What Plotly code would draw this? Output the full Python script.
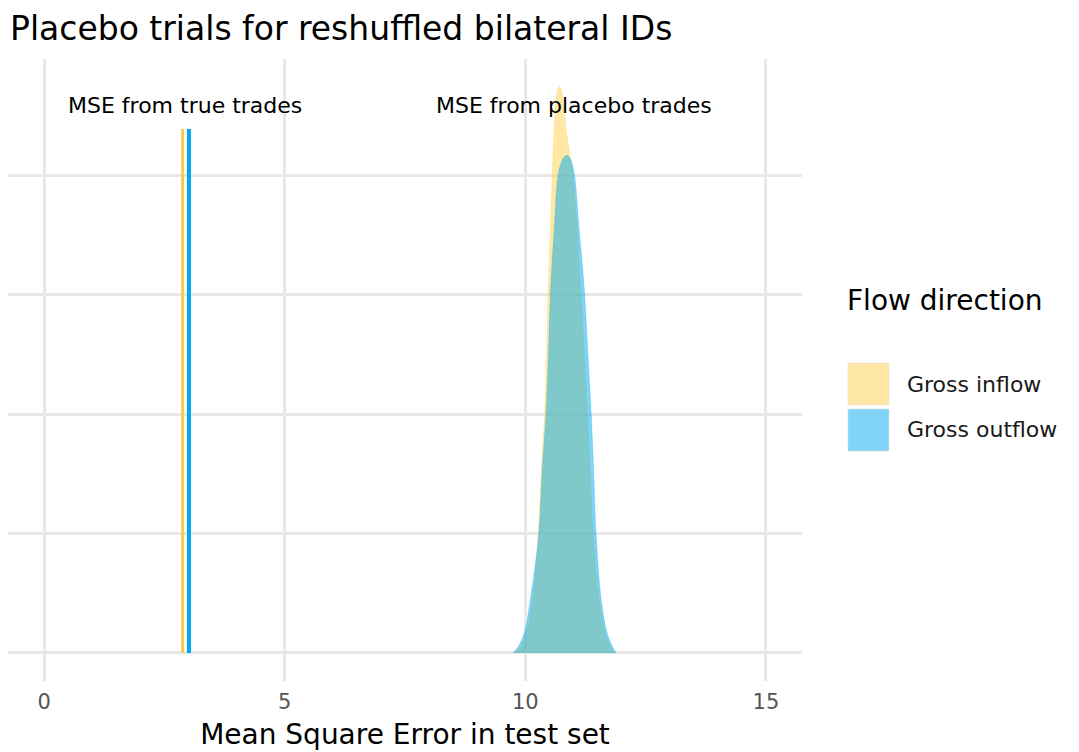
import plotly.graph_objects as go

# ---- data ----
flow_names = ["Gross inflow", "Gross outflow"]
fill_colors = ["rgba(255,209,75,0.5)", "rgba(0,170,241,0.5)"]
line_colors = ["#F7CA48", "#00A8F0"]

# MSE from true trades (vertical lines)
true_mse = [2.88, 3.01]
true_mse_height = 1.097

# density of MSE from placebo trades
inflow_x = [9.77, 9.90, 10.02, 10.15, 10.27, 10.33, 10.40, 10.44, 10.47, 10.52, 10.56, 10.59,
            10.615, 10.645, 10.675, 10.71, 10.745, 10.78, 10.81, 10.85, 10.99, 11.08, 11.16,
            11.23, 11.29, 11.35, 11.41, 11.54, 11.66, 11.77, 11.85]
inflow_y = [0.0, 0.013, 0.042, 0.109, 0.25, 0.382, 0.50, 0.624, 0.748, 0.887, 1.0, 1.085,
            1.132, 1.165, 1.181, 1.186, 1.181, 1.163, 1.135, 1.095, 1.0, 0.887, 0.748,
            0.624, 0.50, 0.382, 0.25, 0.109, 0.042, 0.013, 0.0]
outflow_x = [9.75, 9.85, 9.98, 10.10, 10.28, 10.35, 10.43, 10.48, 10.52, 10.60, 10.68, 10.75,
             10.81, 10.87, 10.93, 10.98, 11.03, 11.12, 11.22, 11.30, 11.37, 11.42, 11.47,
             11.58, 11.70, 11.81, 11.89]
outflow_y = [0.0, 0.013, 0.042, 0.109, 0.25, 0.382, 0.50, 0.624, 0.748, 0.887, 1.0, 1.028,
             1.039, 1.042, 1.036, 1.022, 0.995, 0.887, 0.77, 0.63, 0.50, 0.382, 0.25,
             0.109, 0.042, 0.013, 0.0]

x_ticks = [0, 5, 10, 15]
x_range = [-0.75, 15.75]
y_range = [-0.0588, 1.2437]

FONT = "DejaVu Sans"

# the page body has an 8px margin; build the figure so that it ends at the window edge
OFF = 8
W, H = 1079 - OFF, 752 - OFF
L, R, T, B = 8 - OFF, 1079 - 802, 59 - OFF, 752 - 681
pw, ph = W - L - R, H - T - B


def px(xp):
    return (xp - OFF - L) / pw


def py(yp):
    return (H - B - (yp - OFF)) / ph


fig = go.Figure()

for xs, ys, name, fc in [(inflow_x, inflow_y, flow_names[0], fill_colors[0]),
                         (outflow_x, outflow_y, flow_names[1], fill_colors[1])]:
    fig.add_trace(go.Scatter(
        x=xs, y=ys, mode="lines", name=name, fill="tozeroy",
        fillcolor=fc, line=dict(color=fc, width=0.5, shape="spline", smoothing=1.0),
        showlegend=False, hoverinfo="x+y+name"))

for xv, name, lc, w in [(true_mse[0], flow_names[0], line_colors[0], 3),
                        (true_mse[1], flow_names[1], line_colors[1], 4)]:
    fig.add_trace(go.Scatter(
        x=[xv, xv], y=[0, true_mse_height], mode="lines", name=name,
        line=dict(color=lc, width=w), showlegend=False))

# annotations
fig.add_annotation(x=true_mse[0] + 0.05, y=1.147, text="MSE from true trades",
                   showarrow=False, font=dict(family=FONT, size=22, color="black"),
                   xanchor="center", yanchor="middle")
fig.add_annotation(x=11.02, y=1.147, text="MSE from placebo trades",
                   showarrow=False, font=dict(family=FONT, size=22, color="black"),
                   xanchor="center", yanchor="middle")

# manual legend (ggplot style)
fig.add_annotation(x=px(847), y=py(300), xref="paper", yref="paper", text="Flow direction",
                   showarrow=False, xanchor="left", yanchor="middle", xshift=-2,
                   font=dict(family=FONT, size=28, color="black"))
key_tops = [363, 409]
for i, name in enumerate(flow_names):
    fig.add_shape(type="rect", xref="paper", yref="paper",
                  x0=px(848), x1=px(889), y0=py(key_tops[i]), y1=py(key_tops[i] + 42),
                  fillcolor=fill_colors[i], line=dict(color="rgba(220,220,220,0.6)", width=1))
    fig.add_annotation(x=px(907), y=py(key_tops[i] + 21), xref="paper", yref="paper",
                       text=name, showarrow=False, xanchor="left", yanchor="middle", xshift=-2,
                       font=dict(family=FONT, size=22, color="#1a1a1a"))

fig.update_layout(
    width=W, height=H,
    margin=dict(l=L, r=R, t=T, b=B),
    paper_bgcolor="white", plot_bgcolor="white",
    title=dict(text="Placebo trials for reshuffled bilateral IDs", x=(10 - OFF) / W,
               xanchor="left", y=1 - (28 - OFF) / H, yanchor="middle",
               xref="container", yref="container",
               font=dict(family=FONT, size=33, color="black")),
    xaxis=dict(range=x_range, tickvals=x_ticks, showgrid=True, gridcolor="#e8e8e8",
               gridwidth=2.5, zeroline=False, showline=False, ticks="",
               tickfont=dict(family=FONT, size=21, color="#555555"), ticklabelstandoff=6,
               title=dict(text="Mean Square Error in test set", standoff=11,
                          font=dict(family=FONT, size=28, color="black"))),
    yaxis=dict(range=y_range, tick0=0, dtick=0.25, showgrid=True, gridcolor="#e8e8e8",
               gridwidth=2.5, zeroline=False, showline=False, showticklabels=False, ticks=""),
    font=dict(family=FONT),
)

fig.write_html("out.html")
